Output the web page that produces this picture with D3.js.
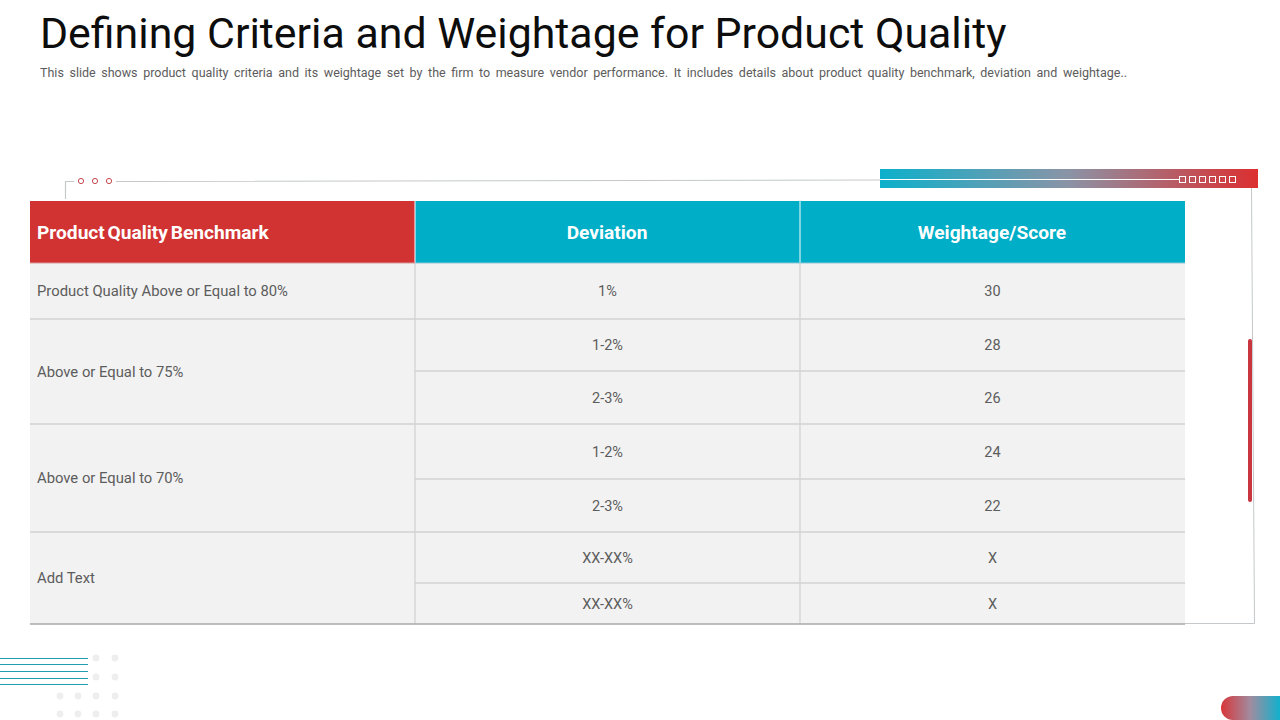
<!DOCTYPE html>
<html>
<head>
<meta charset="utf-8">
<script src="https://cdnjs.cloudflare.com/ajax/libs/d3/7.8.5/d3.min.js"></script>
<style>
  html, body { margin: 0; padding: 0; background: #fff; }
  svg { display: block; font-family: Roboto, sans-serif; }
</style>
</head>
<body>
<div id="chart"></div>
<script>
// Table content.
const title = "Defining Criteria and Weightage for Product Quality";
const subtitle = "This slide shows product quality criteria and its weightage set by the firm to measure vendor performance. It includes details about product quality benchmark, deviation and weightage..";
const headers = ["Product Quality Benchmark", "Deviation", "Weightage/Score"];
const benchmarks = ["Product Quality Above or Equal to 80%", "Above or Equal to 75%", "Above or Equal to 70%", "Add Text"];
const benchmarkSpans = [1, 2, 2, 2];
const deviations = ["1%", "1-2%", "2-3%", "1-2%", "2-3%", "XX-XX%", "XX-XX%"];
const scores = ["30", "28", "26", "24", "22", "X", "X"];

// Layout of the slide, in pixels.
const width = 1280, height = 720;
const colEdges = [30, 415, 800, 1185];
const rowEdges = [263, 319, 371, 424, 479, 532, 583, 624];
const headerTop = 201;
const red = "#d13232", teal = "#00aec7", gridGrey = "#d2d2d2", textGrey = "#5c5c5c";

const svg = d3.select("#chart").append("svg")
  .attr("width", width)
  .attr("height", height);

const defs = svg.append("defs");

function gradient(id, from, mid, to) {
  const g = defs.append("linearGradient").attr("id", id);
  g.append("stop").attr("offset", "0%").attr("stop-color", from);
  g.append("stop").attr("offset", "50%").attr("stop-color", mid);
  g.append("stop").attr("offset", "100%").attr("stop-color", to);
}
gradient("barGrad", "#0cb0cb", "#8b93a6", "#dc2f30");
gradient("pillGrad", "#d9363a", "#a08c9f", "#12b0cc");

// Title block.
svg.append("text")
  .attr("x", 40).attr("y", 48)
  .attr("font-size", 42.85)
  .attr("fill", "#0d0d0d")
  .text(title);

// Stretch the word gaps so the subtitle runs the full line, like justified text.
const sub = svg.append("text")
  .attr("x", 40).attr("y", 77)
  .attr("font-size", 12.5)
  .attr("fill", textGrey)
  .text(subtitle);
const subWidth = sub.node().getComputedTextLength();
sub.attr("word-spacing", (1087 - subWidth) / (subtitle.split(" ").length - 1));

// Decorative frame behind the table.
const frameColor = "#c4c8ca";
svg.append("path")
  .attr("d", "M65.5 199 V181.5 H74 M116 181.5 L880 180")
  .attr("fill", "none").attr("stroke", frameColor).attr("stroke-width", 1.2);
svg.append("path")
  .attr("d", "M1251.5 188 L1254.5 623.5 H308")
  .attr("fill", "none").attr("stroke", frameColor).attr("stroke-width", 1);

svg.selectAll("circle.ring")
  .data([81, 95, 109])
  .join("circle")
  .attr("class", "ring")
  .attr("cx", d => d).attr("cy", 181)
  .attr("r", 2.6)
  .attr("fill", "none").attr("stroke", "#c4474f").attr("stroke-width", 1);

svg.append("rect")
  .attr("x", 880).attr("y", 169)
  .attr("width", 378).attr("height", 19)
  .attr("fill", "url(#barGrad)");
svg.append("line")
  .attr("x1", 880).attr("x2", 1179)
  .attr("y1", 179.5).attr("y2", 179.5)
  .attr("stroke", "#fff").attr("stroke-width", 1);
svg.selectAll("rect.tick-box")
  .data(d3.range(6))
  .join("rect")
  .attr("class", "tick-box")
  .attr("x", d => 1179.5 + d * 10)
  .attr("y", 176.5)
  .attr("width", 6).attr("height", 6)
  .attr("fill", "none").attr("stroke", "#fff").attr("stroke-width", 1);

svg.append("rect")
  .attr("x", 1248).attr("y", 339)
  .attr("width", 4).attr("height", 163)
  .attr("rx", 2)
  .attr("fill", "#c9363f");

// Table header.
svg.selectAll("rect.header")
  .data(headers)
  .join("rect")
  .attr("class", "header")
  .attr("x", (d, i) => colEdges[i])
  .attr("y", headerTop)
  .attr("width", (d, i) => colEdges[i + 1] - colEdges[i])
  .attr("height", rowEdges[0] - headerTop)
  .attr("fill", (d, i) => i === 0 ? red : teal);

svg.selectAll("text.header-label")
  .data(headers)
  .join("text")
  .attr("class", "header-label")
  .attr("x", (d, i) => i === 0 ? colEdges[0] + 7 : (colEdges[i] + colEdges[i + 1]) / 2 - 0.5)
  .attr("y", 238.5)
  .attr("text-anchor", (d, i) => i === 0 ? "start" : "middle")
  .attr("font-size", 19.15)
  .attr("font-weight", 700)
  .attr("word-spacing", (d, i) => i === 0 ? -2 : 0)
  .attr("fill", "#fff")
  .text(d => d);

// Table body.
const body = svg.append("g");
body.append("rect")
  .attr("x", colEdges[0]).attr("y", rowEdges[0])
  .attr("width", colEdges[3] - colEdges[0])
  .attr("height", rowEdges[7] - rowEdges[0])
  .attr("fill", "#f2f2f2");

// Work out which body rows each benchmark covers.
let rowCursor = 0;
const groups = benchmarks.map((label, i) => {
  const g = { label, start: rowCursor, end: rowCursor + benchmarkSpans[i] };
  rowCursor = g.end;
  return g;
});

// Row rules: full width at group ends, value columns only inside a group.
const groupEnds = new Set(groups.map(g => g.end));
body.selectAll("line.rule")
  .data(d3.range(1, deviations.length))
  .join("line")
  .attr("class", "rule")
  .attr("x1", d => groupEnds.has(d) ? colEdges[0] : colEdges[1])
  .attr("x2", colEdges[3])
  .attr("y1", d => rowEdges[d]).attr("y2", d => rowEdges[d])
  .attr("stroke", gridGrey).attr("stroke-width", 1.3);

body.selectAll("line.col-rule")
  .data([1, 2])
  .join("line")
  .attr("class", "col-rule")
  .attr("x1", d => colEdges[d]).attr("x2", d => colEdges[d])
  .attr("y1", rowEdges[0]).attr("y2", rowEdges[7])
  .attr("stroke", gridGrey).attr("stroke-width", 1.3);

// White gaps between the header cells and the lighter rule beneath them.
svg.selectAll("line.header-gap")
  .data([1, 2])
  .join("line")
  .attr("class", "header-gap")
  .attr("x1", d => colEdges[d]).attr("x2", d => colEdges[d])
  .attr("y1", headerTop).attr("y2", rowEdges[0])
  .attr("stroke", "#fff").attr("stroke-width", 1);
svg.selectAll("line.header-rule")
  .data([0, 1, 2])
  .join("line")
  .attr("class", "header-rule")
  .attr("x1", d => colEdges[d]).attr("x2", d => colEdges[d + 1])
  .attr("y1", rowEdges[0]).attr("y2", rowEdges[0])
  .attr("stroke", d => d === 0 ? "#dc9a9a" : "#8fc6d6").attr("stroke-width", 1.2);

svg.append("line")
  .attr("x1", colEdges[0]).attr("x2", colEdges[3])
  .attr("y1", rowEdges[7]).attr("y2", rowEdges[7])
  .attr("stroke", "#a9a9a9").attr("stroke-width", 1.3);

const cellStyle = sel => sel
  .attr("fill", textGrey)
  .attr("dy", "0.35em");

body.selectAll("text.benchmark")
  .data(groups)
  .join("text")
  .attr("class", "benchmark")
  .attr("x", colEdges[0] + 7)
  .attr("y", d => (rowEdges[d.start] + rowEdges[d.end]) / 2 + (d.start === 0 ? -0.5 : 0.3))
  .attr("font-size", 14.8)
  .text(d => d.label)
  .call(cellStyle);

[deviations, scores].forEach((values, c) => {
  body.selectAll("text.col" + c)
    .data(values)
    .join("text")
    .attr("class", "col" + c)
    .attr("x", (colEdges[c + 1] + colEdges[c + 2]) / 2)
    .attr("y", (d, i) => (rowEdges[i] + rowEdges[i + 1]) / 2)
    .attr("text-anchor", "middle")
    .attr("font-size", 14.5)
    .text(d => d)
    .call(cellStyle);
});

// Corner decorations.
svg.selectAll("line.stripe")
  .data([658.5, 664.5, 671.5, 678.5, 684.5])
  .join("line")
  .attr("class", "stripe")
  .attr("x1", 0).attr("x2", 88)
  .attr("y1", d => d).attr("y2", d => d)
  .attr("stroke", "#1f9eb0").attr("stroke-width", 1);

const dotCols = [60, 78, 96, 115], dotRows = [658, 677, 696, 714];
svg.selectAll("circle.dot")
  .data(d3.cross(dotCols, dotRows).filter(([x, y]) => x > 90 || y > 690))
  .join("circle")
  .attr("class", "dot")
  .attr("cx", d => d[0]).attr("cy", d => d[1])
  .attr("r", 3.4)
  .attr("fill", "#eeeeee");

svg.append("path")
  .attr("d", "M1280 696 H1233 A12 12 0 0 0 1233 720 H1280 Z")
  .attr("fill", "url(#pillGrad)");
</script>
</body>
</html>
